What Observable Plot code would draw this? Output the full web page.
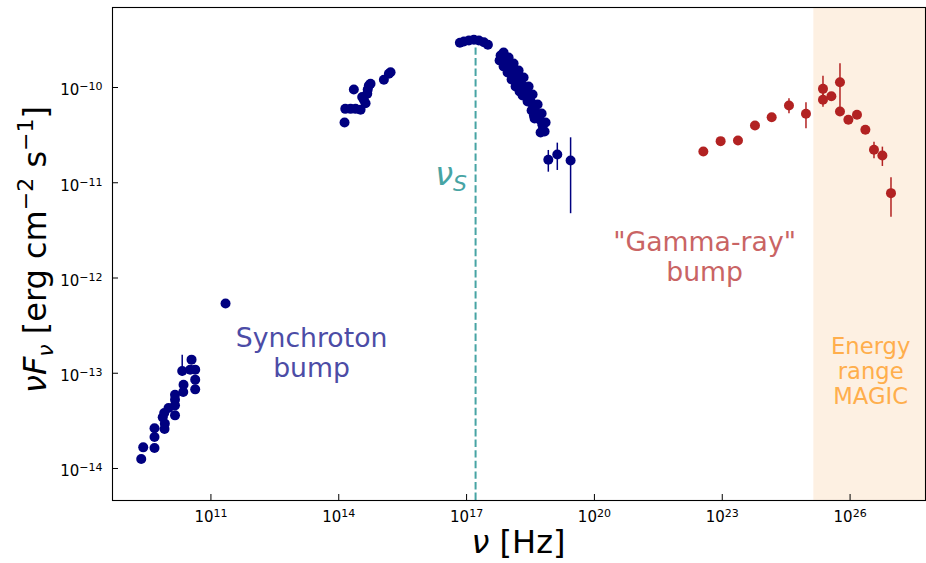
<!DOCTYPE html>
<html>
<head>
<meta charset="utf-8">
<script src="https://cdn.jsdelivr.net/npm/d3@7"></script>
<script src="https://cdn.jsdelivr.net/npm/@observablehq/plot@0.6"></script>
<style>
  html, body { margin: 0; padding: 0; background: #fff; }
  #chart svg { display: block; }
</style>
</head>
<body>
<div id="chart"></div>
<script>
// Spectral energy distribution: log10(ν / Hz) and log10(νFν / erg cm⁻² s⁻¹)

// Synchrotron component — radio
const radio = [
  [9.364, -13.900], [9.411, -13.778], [9.676, -13.785], [9.676, -13.669], [9.676, -13.578],
  [9.911, -13.586], [9.918, -13.529], [9.869, -13.463], [9.904, -13.418], [10.005, -13.365],
  [10.157, -13.442], [10.157, -13.337], [10.157, -13.277], [10.157, -13.225], [10.350, -13.197],
  [10.357, -13.120], [10.326, -12.977], [10.545, -12.857], [10.514, -12.962], [10.631, -12.962],
  [10.631, -13.067], [10.631, -13.169], [11.343, -12.267]
];

// Synchrotron component — infrared / optical / UV
const optical = [
  [14.136, -10.367], [14.153, -10.224], [14.277, -10.224], [14.394, -10.224], [14.512, -10.234],
  [14.354, -10.021], [14.589, -10.129], [14.669, -10.066], [14.707, -9.979], [14.746, -9.961],
  [14.629, -10.165], [15.059, -9.919], [15.176, -9.856], [15.216, -9.839], [14.550, -10.100],
  [14.680, -10.020]
];

// Synchrotron component — X-rays
const xray = [
  [16.843, -9.531], [16.937, -9.517], [17.054, -9.507], [17.171, -9.499], [17.289, -9.507],
  [17.406, -9.525], [17.500, -9.552],
  [17.798, -9.664], [17.869, -9.696], [17.939, -9.738], [18.009, -9.780], [18.080, -9.822],
  [18.150, -9.864], [18.221, -9.916], [18.291, -9.969], [18.362, -10.021], [18.432, -10.084],
  [18.502, -10.147], [18.573, -10.210], [18.643, -10.273], [18.714, -10.336], [18.784, -10.399],
  [18.831, -10.462],
  [17.869, -9.633], [17.986, -9.685], [18.103, -9.748], [18.221, -9.822], [18.338, -9.895],
  [18.455, -9.990], [18.549, -10.073], [18.667, -10.178], [18.761, -10.273], [18.854, -10.367],
  [17.775, -9.717], [17.869, -9.780], [17.962, -9.843], [18.056, -9.916], [18.150, -9.990],
  [18.244, -10.042], [18.315, -10.084], [18.432, -10.147], [18.526, -10.241], [18.596, -10.325],
  [18.737, -10.472],
  [18.542, -10.171], [18.580, -10.294], [18.777, -10.381],
  [18.918, -10.759], [19.129, -10.703], [19.441, -10.766]
];

// Synchrotron error bars: [log ν, low, high]
const synErrors = [
  [10.326, -13.030, -12.812],
  [18.918, -10.889, -10.661],
  [19.129, -10.871, -10.584],
  [19.441, -11.325, -10.528]
];

// Inverse-Compton component — γ-rays
const gamma = [
  [22.556, -10.672], [22.962, -10.563], [23.369, -10.556], [23.768, -10.399], [24.160, -10.312],
  [24.566, -10.189], [24.965, -10.276], [25.364, -10.014], [25.364, -10.129], [25.561, -10.091],
  [25.763, -9.944], [25.763, -10.252], [25.960, -10.339], [26.162, -10.286], [26.359, -10.444],
  [26.561, -10.654], [26.758, -10.714], [26.960, -11.109]
];

// γ-ray error bars: [log ν, low, high]
const gammaErrors = [
  [22.556, -10.700, -10.655],
  [24.160, -10.340, -10.280],
  [24.566, -10.276, -10.119],
  [24.965, -10.433, -10.161],
  [25.364, -10.136, -9.881],
  [25.364, -10.207, -10.066],
  [25.763, -10.220, -9.751],
  [26.561, -10.748, -10.574],
  [26.758, -10.829, -10.626],
  [26.960, -11.361, -10.948]
];

// Synchrotron peak frequency and its flux
const logNuS = 17.211;
const logFluxPeak = -9.51;

// Energy range covered by MAGIC (lower bound, log ν)
const logMagicStart = 25.15;

// Axis extents (log10) and tick values
const logXDomain = [8.69, 27.77];
const logYDomain = [-14.336, -9.16];
const xTicks = [1e11, 1e14, 1e17, 1e20, 1e23, 1e26];
const yTicks = [1e-14, 1e-13, 1e-12, 1e-11, 1e-10];

// Annotations: [log ν, log νFν, text]
const synLabel = [13.362, -12.781, "Synchroton\nbump"];
const gammaLabel = [22.587, -11.773, "\"Gamma-ray\"\nbump"];
const magicLabel = [26.484, -12.980, "Energy\nrange\nMAGIC"];
const nuSLabel = [16.648, -11.028];

const toPoints = rows => rows.map(([x, y]) => ({nu: 10 ** x, flux: 10 ** y}));
const toErrors = rows => rows.map(([x, lo, hi]) => ({nu: 10 ** x, lo: 10 ** lo, hi: 10 ** hi}));

const synPoints = toPoints([...radio, ...optical, ...xray]);
const gammaPoints = toPoints(gamma);

const W = 926, H = 563;
const M = {left: 112, right: 1, top: 7, bottom: 63};
const innerW = W - M.left - M.right;
const innerH = H - M.top - M.bottom;

const NAVY = "#000080";
const RED = "#b22222";
const FONT = "'DejaVu Sans', sans-serif";

const minus = s => s.replace("-", "\u2212");
const expOf = d => minus(String(Math.round(Math.log10(d))));

const textLabel = ([x, y, t], fill, fontSize, lineHeight) =>
  Plot.text([t], {
    x: () => 10 ** x, y: () => 10 ** y, text: d => d,
    fill, fontSize, lineHeight, textAnchor: "middle", fontFamily: FONT
  });

const plot = Plot.plot({
  width: W,
  height: H,
  marginLeft: M.left,
  marginRight: M.right,
  marginTop: M.top,
  marginBottom: M.bottom,
  style: {fontFamily: FONT, background: "#fff", color: "#000"},
  x: {type: "log", domain: logXDomain.map(v => 10 ** v)},
  y: {type: "log", domain: logYDomain.map(v => 10 ** v)},
  marks: [
    // MAGIC band
    Plot.rect([0], {x1: () => 10 ** logMagicStart, x2: () => 10 ** logXDomain[1], fill: "#fdf0e2"}),
    // ν_S marker
    Plot.ruleX([0], {
      x: () => 10 ** logNuS, y1: () => 10 ** logYDomain[0], y2: () => 10 ** logFluxPeak,
      stroke: "#47a4a4", strokeWidth: 2, strokeDasharray: "7.4,3.2"
    }),
    // error bars
    Plot.ruleX(toErrors(synErrors), {x: "nu", y1: "lo", y2: "hi", stroke: NAVY, strokeWidth: 1.5}),
    Plot.ruleX(toErrors(gammaErrors), {x: "nu", y1: "lo", y2: "hi", stroke: RED, strokeWidth: 1.5}),
    // flux points
    Plot.dot(synPoints, {x: "nu", y: "flux", r: 5, fill: NAVY, stroke: null}),
    Plot.dot(gammaPoints, {x: "nu", y: "flux", r: 5, fill: RED, stroke: null}),
    // annotations
    textLabel(synLabel, "#4c4ca6", 26.7, 1.13),
    textLabel(gammaLabel, "#c96464", 26.7, 1.13),
    textLabel(magicLabel, "#ffae4c", 22.7, 1.1),
    // inward ticks
    Plot.tickX(xTicks, {x: d => d, insetTop: innerH - 6, stroke: "#000", strokeWidth: 1}),
    Plot.tickY(yTicks, {y: d => d, insetRight: innerW - 6, stroke: "#000", strokeWidth: 1}),
    // tick labels
    Plot.axisX({ticks: xTicks, tickSize: 0, tickPadding: 11, tickFormat: expOf, fontSize: 15, label: null}),
    Plot.axisY({ticks: yTicks, tickSize: 0, tickPadding: 10, dy: 3, tickFormat: expOf, fontSize: 15, label: null}),
    Plot.frame({stroke: "#000", strokeWidth: 1.1})
  ]
});

const svg = d3.select(plot);

// Turn tick labels into 10 with a raised exponent
svg.selectAll("g[aria-label$='tick label'] text").each(function () {
  const exp = this.textContent;
  const t = d3.select(this).text("");
  t.append("tspan").text("10");
  t.append("tspan").attr("dy", "-0.45em").attr("font-size", "11px").text(exp);
});

const xs = plot.scale("x"), ys = plot.scale("y");

// ν_S label
const nuS = svg.append("text")
  .attr("x", xs.apply(10 ** nuSLabel[0]))
  .attr("y", ys.apply(10 ** nuSLabel[1]))
  .attr("text-anchor", "middle")
  .attr("fill", "#47a4a4")
  .attr("font-family", FONT)
  .attr("font-size", "32px");
nuS.append("tspan").attr("font-style", "italic").text("ν");
nuS.append("tspan").attr("font-style", "italic").attr("font-size", "22px").attr("dy", "6").text("S");

// y-axis title
const yTitle = svg.append("text")
  .attr("transform", `translate(46,${M.top + innerH / 2 - 4}) rotate(-90)`)
  .attr("text-anchor", "middle")
  .attr("fill", "#000")
  .attr("font-family", FONT)
  .attr("font-size", "32px");
yTitle.append("tspan").attr("font-style", "italic").text("νF");
yTitle.append("tspan").attr("font-style", "italic").attr("font-size", "22px").attr("dy", "7").text("ν");
yTitle.append("tspan").attr("dy", "-7").text(" [erg cm");
yTitle.append("tspan").attr("font-size", "22px").attr("dy", "-13").text("\u22122");
yTitle.append("tspan").attr("dy", "13").text(" s");
yTitle.append("tspan").attr("font-size", "22px").attr("dy", "-13").text("\u22121");
yTitle.append("tspan").attr("dy", "13").text("]");

// x-axis title
const xTitle = svg.append("text")
  .attr("x", M.left + innerW / 2)
  .attr("y", 553)
  .attr("text-anchor", "middle")
  .attr("fill", "#000")
  .attr("font-family", FONT)
  .attr("font-size", "32px");
xTitle.append("tspan").attr("font-style", "italic").text("ν");
xTitle.append("tspan").text(" [Hz]");

document.getElementById("chart").appendChild(plot);
</script>
</body>
</html>
